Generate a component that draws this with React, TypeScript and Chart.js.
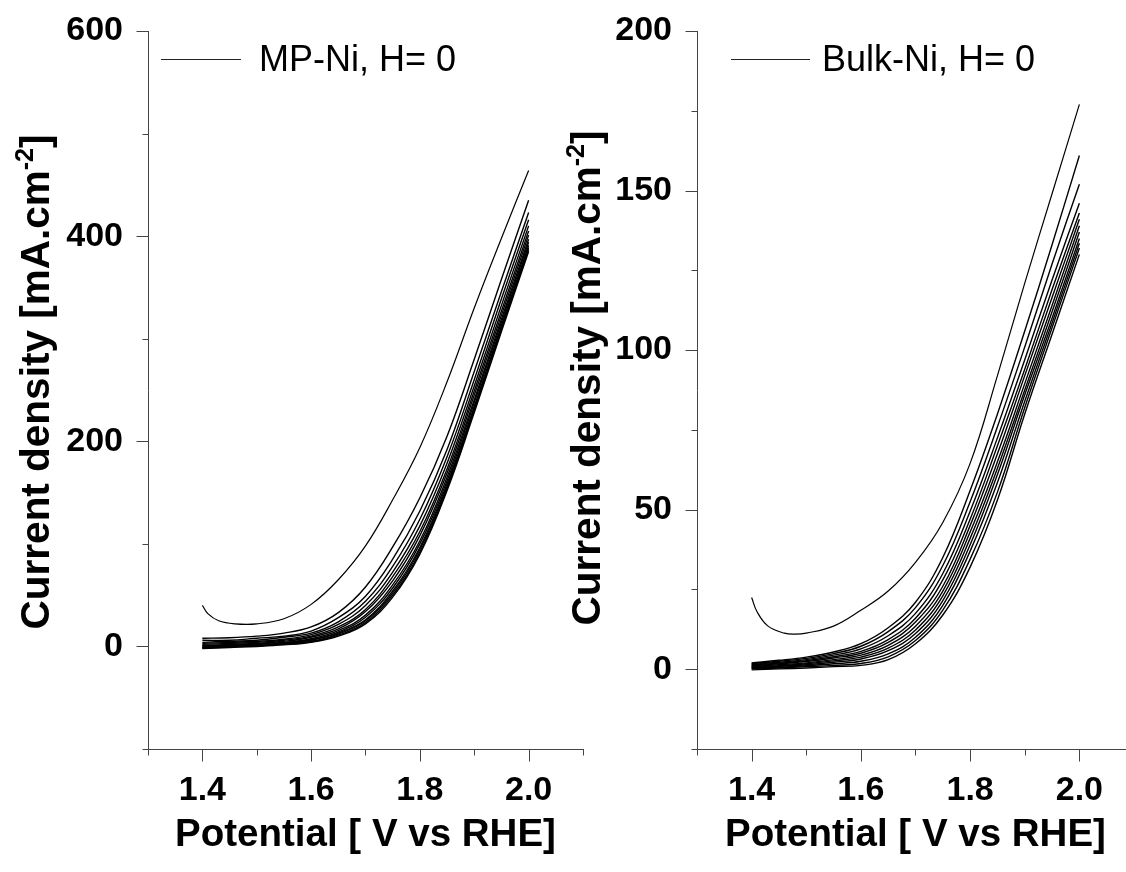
import React, { useEffect, useRef } from 'react';
import { Chart, registerables } from 'chart.js';

Chart.register(...registerables);

// ---------- DATA ----------
const potentials = [1.40, 1.45, 1.50, 1.55, 1.60, 1.65, 1.70, 1.75, 1.80, 1.85, 1.90, 1.95, 2.00];

// MP-Ni, first sweep (upper curve)
const mpFirstX = [1.40, 1.41, 1.43, 1.46, 1.50, 1.55, 1.60, 1.65, 1.70, 1.75, 1.80, 1.85, 1.90, 1.95, 2.00];
const mpFirstY = [40, 32, 25, 22, 22, 27, 41, 65, 98, 143, 194, 258, 330, 398, 464];

// MP-Ni, following sweeps (values at `potentials`)
const mpC2 = [8, 8.5, 10, 13, 19, 33, 58, 97, 145, 205, 280, 358, 435];
const mpC3 = [6, 6, 8, 10, 15, 28, 49, 85, 132, 192, 268, 346, 423];
const mpC4 = [4, 5, 6, 9, 13, 24, 44, 78, 124, 185, 260, 339, 416];
const mpC5 = [3, 4, 5, 7, 11.5, 21.5, 40, 72.5, 117.5, 178.5, 254, 332.5, 410];
const mpC6 = [2, 3, 4, 6, 10, 19, 36, 68, 112, 173, 249, 327, 405];
const mpC7 = [1, 2, 3, 5, 9, 17, 34, 64, 108, 169, 245, 323, 401];
const mpC8 = [0.5, 1, 2.5, 4, 7.5, 15.5, 30.5, 60, 103, 165, 240.5, 319, 397];
const mpC9 = [0, 1, 2, 3.5, 6.5, 14, 28.5, 57, 100, 161.5, 237.5, 316, 394];
const mpC10 = [-1, 0, 1, 3, 6, 13, 26, 54, 96.5, 158.5, 234, 313, 391];
const mpC11 = [-1, 0, 1, 2.5, 5, 12, 25, 52, 94.5, 156, 232, 311, 389];
const mpC12 = [-1.5, -0.5, 0.5, 2, 4.5, 11, 23.5, 50, 92, 154, 230, 309, 387];
const mpC13 = [-2, -1, 0, 1.5, 4, 10, 22, 48, 90, 152, 228, 307, 385];

// Bulk-Ni, first sweep (upper curve)
const bulkFirstX = [1.40, 1.41, 1.43, 1.46, 1.48, 1.50, 1.55, 1.60, 1.65, 1.70, 1.75, 1.80, 1.85, 1.90, 1.95, 2.00];
const bulkFirstY = [22.5, 18, 13.5, 11.3, 11, 11.3, 13.5, 18.5, 24.5, 33.5, 46, 64.5, 92, 121, 149, 177];

// Bulk-Ni, following sweeps (values at `potentials`)
const bulkC2 = [2.0, 2.8, 3.8, 5.4, 8, 13, 21, 35, 56, 80, 106, 133, 161];
const bulkC3 = [1.8, 2.5, 3.4, 4.9, 7.2, 11.8, 19.3, 32.5, 52.5, 76, 101, 127, 152];
const bulkC4 = [1.5, 2.2, 3.0, 4.4, 6.4, 10.5, 17.5, 30, 49.5, 72.5, 97, 122, 146];
const bulkC5 = [1.3, 1.9, 2.7, 3.9, 5.6, 9.3, 16, 28, 47, 70, 94, 119, 143];
const bulkC6 = [1.1, 1.7, 2.4, 3.5, 5.0, 8.4, 14.8, 26, 45, 67.5, 92, 116.5, 141];
const bulkC7 = [0.9, 1.4, 2.0, 3.0, 4.4, 7.5, 13.5, 24.5, 43, 65, 89.5, 114, 139];
const bulkC8 = [0.7, 1.1, 1.7, 2.6, 3.8, 6.6, 12.3, 23, 41, 63, 87.5, 112, 137];
const bulkC9 = [0.5, 0.9, 1.4, 2.2, 3.2, 5.8, 11.2, 21.5, 39, 61, 86, 110, 135];
const bulkC10 = [0.3, 0.6, 1.1, 1.7, 2.5, 4.8, 10, 20, 37, 58.5, 84, 108.5, 133.5];
const bulkC11 = [0.1, 0.4, 0.8, 1.2, 1.8, 3.9, 9, 18.5, 34.5, 55.5, 82, 107, 132];
const bulkC12 = [-0.2, 0.1, 0.4, 0.8, 1.2, 3.0, 8, 17, 32, 53, 80, 105, 130];

// Axes / ticks
const xMajorTicks = [1.4, 1.6, 1.8, 2.0];
const xMinorTicks = [1.3, 1.5, 1.7, 1.9, 2.1];
const mpYMajorTicks = [0, 200, 400, 600];
const mpYMinorTicks = [-100, 100, 300, 500];
const bulkYMajorTicks = [0, 50, 100, 150, 200];
const bulkYMinorTicks = [-25, 25, 75, 125, 175];

const xTitle = 'Potential [ V vs RHE]';
const yTitleMain = 'Current density [mA.cm';
const yTitleSup = '-2';
const yTitleEnd = ']';
const mpLegend = 'MP-Ni, H= 0';
const bulkLegend = 'Bulk-Ni, H= 0';

// ---------- RENDERING ----------
const FONT = '"Liberation Sans", Arial, Helvetica, sans-serif';
const AXIS_COLOR = '#444';

const decorPlugin = {
  id: 'decor',
  afterDraw(chart: any, _args: any, opts: any) {
    const { ctx, chartArea, scales } = chart;
    const xs = scales.x;
    const ys = scales.y;
    ctx.save();
    // tick marks
    ctx.strokeStyle = AXIS_COLOR;
    ctx.lineWidth = 1;
    ctx.beginPath();
    const L = Math.round(chartArea.left) + 0.5;
    const B = Math.round(chartArea.bottom) + 0.5;
    const drawY = (vals: number[], len: number) => {
      vals.forEach((v) => {
        const y = Math.round(ys.getPixelForValue(v)) + 0.5;
        ctx.moveTo(L - len, y);
        ctx.lineTo(L, y);
      });
    };
    const drawX = (vals: number[], len: number) => {
      vals.forEach((v) => {
        const x = Math.round(xs.getPixelForValue(v)) + 0.5;
        ctx.moveTo(x, B);
        ctx.lineTo(x, B + len);
      });
    };
    drawY(opts.yMajor, 12);
    drawY(opts.yMinor, 6);
    drawX(opts.xMajor, 12);
    drawX(opts.xMinor, 6);
    ctx.stroke();

    // legend
    ctx.strokeStyle = '#222';
    ctx.beginPath();
    ctx.moveTo(opts.legend.x1, opts.legend.y + 0.5);
    ctx.lineTo(opts.legend.x2, opts.legend.y + 0.5);
    ctx.stroke();
    ctx.fillStyle = '#000';
    ctx.font = `36px ${FONT}`;
    ctx.textAlign = 'left';
    ctx.textBaseline = 'alphabetic';
    ctx.fillText(opts.legend.text, opts.legend.tx, opts.legend.ty);

    // x title
    ctx.font = `bold 38.5px ${FONT}`;
    ctx.textAlign = 'center';
    ctx.fillText(xTitle, (chartArea.left + chartArea.right) / 2, opts.xTitleY);

    // y title (rotated, with superscript)
    ctx.translate(opts.yTitleX, opts.yTitleCY);
    ctx.rotate(-Math.PI / 2);
    ctx.textAlign = 'left';
    const big = `bold 40.5px ${FONT}`;
    const small = `bold 25px ${FONT}`;
    ctx.font = big;
    const w1 = ctx.measureText(yTitleMain).width;
    const w3 = ctx.measureText(yTitleEnd).width;
    ctx.font = small;
    const w2 = ctx.measureText(yTitleSup).width;
    let x = -(w1 + w2 + w3) / 2;
    ctx.font = big;
    ctx.fillText(yTitleMain, x, 0);
    x += w1;
    ctx.font = small;
    ctx.fillText(yTitleSup, x, -16);
    x += w2;
    ctx.font = big;
    ctx.fillText(yTitleEnd, x, 0);
    ctx.restore();
  },
};

function curve(xsArr: number[], ysArr: number[], width: number) {
  return {
    data: xsArr.map((x, i) => ({ x, y: ysArr[i] })),
    borderColor: '#000',
    borderWidth: width,
    pointRadius: 0,
    showLine: true,
    fill: false,
    tension: 0.4,
  };
}

function makeConfig(p: {
  datasets: any[];
  yMin: number;
  yMax: number;
  yMajor: number[];
  yAxisWidth: number;
  padRight: number;
  decor: any;
}) {
  const tickFont = { family: FONT, size: 34, weight: 'bold' as const };
  return {
    type: 'scatter' as const,
    data: { datasets: p.datasets },
    options: {
      animation: false,
      responsive: false,
      maintainAspectRatio: false,
      events: [],
      layout: { padding: { top: 31, right: p.padRight, left: 0, bottom: 0 } },
      plugins: {
        legend: { display: false },
        tooltip: { enabled: false },
        decor: p.decor,
      },
      scales: {
        x: {
          type: 'linear',
          min: 1.3,
          max: 2.1,
          afterBuildTicks: (s: any) => {
            s.ticks = xMajorTicks.map((v) => ({ value: v }));
          },
          afterFit: (s: any) => {
            s.height = 123;
            s.paddingLeft = 0;
            s.paddingRight = 0;
          },
          grid: { display: true, drawOnChartArea: false, drawTicks: false },
          border: { display: true, color: AXIS_COLOR, width: 1 },
          ticks: {
            font: tickFont,
            color: '#000',
            padding: 21,
            maxRotation: 0,
            autoSkip: false,
            callback: (v: any) => Number(v).toFixed(1),
          },
        },
        y: {
          type: 'linear',
          min: p.yMin,
          max: p.yMax,
          afterBuildTicks: (s: any) => {
            s.ticks = p.yMajor.map((v) => ({ value: v }));
          },
          afterFit: (s: any) => {
            s.width = p.yAxisWidth;
            s.paddingTop = 0;
            s.paddingBottom = 0;
          },
          grid: { display: true, drawOnChartArea: false, drawTicks: false },
          border: { display: true, color: AXIS_COLOR, width: 1 },
          ticks: {
            font: tickFont,
            color: '#000',
            padding: 25,
            autoSkip: false,
            callback: (v: any) => String(v),
          },
        },
      },
    },
    plugins: [decorPlugin],
  };
}

function ChartCanvas({ config, width, height, left }: any) {
  const ref = useRef<HTMLCanvasElement | null>(null);
  useEffect(() => {
    if (!ref.current) return;
    const chart = new Chart(ref.current, config as any);
    return () => chart.destroy();
  }, [config]);
  return (
    <canvas
      ref={ref}
      width={width}
      height={height}
      style={{ position: 'absolute', left, top: 0, width, height }}
    />
  );
}

const mpDatasets = [
  curve(mpFirstX, mpFirstY, 1.2),
  ...[mpC2, mpC3, mpC4, mpC5, mpC6, mpC7, mpC8, mpC9, mpC10, mpC11, mpC12, mpC13].map((c) => curve(potentials, c, 1.4)),
];
const bulkDatasets = [
  curve(bulkFirstX, bulkFirstY, 1.2),
  ...[bulkC2, bulkC3, bulkC4, bulkC5, bulkC6, bulkC7, bulkC8, bulkC9, bulkC10, bulkC11, bulkC12].map((c) => curve(potentials, c, 1.4)),
];

const leftConfig = makeConfig({
  datasets: mpDatasets,
  yMin: -100,
  yMax: 600,
  yMajor: mpYMajorTicks,
  yAxisWidth: 148,
  padRight: 17,
  decor: {
    yMajor: mpYMajorTicks,
    yMinor: mpYMinorTicks,
    xMajor: xMajorTicks,
    xMinor: xMinorTicks,
    legend: { x1: 161, x2: 241, y: 59, text: mpLegend, tx: 259, ty: 71 },
    xTitleY: 846,
    yTitleX: 49,
    yTitleCY: 382,
  },
});

const rightConfig = makeConfig({
  datasets: bulkDatasets,
  yMin: -25,
  yMax: 200,
  yMajor: bulkYMajorTicks,
  yAxisWidth: 137,
  padRight: 16,
  decor: {
    yMajor: bulkYMajorTicks,
    yMinor: bulkYMinorTicks,
    xMajor: xMajorTicks,
    xMinor: xMinorTicks,
    legend: { x1: 171, x2: 250, y: 59, text: bulkLegend, tx: 262, ty: 71 },
    xTitleY: 846,
    yTitleX: 40,
    yTitleCY: 378,
  },
});

export default function App() {
  return (
    <div
      style={{
        position: 'fixed',
        left: 0,
        top: 0,
        width: 1126,
        height: 872,
        overflow: 'hidden',
        background: '#fff',
      }}
    >
      <ChartCanvas config={leftConfig} width={600} height={872} left={0} />
      <ChartCanvas config={rightConfig} width={590} height={872} left={560} />
    </div>
  );
}
